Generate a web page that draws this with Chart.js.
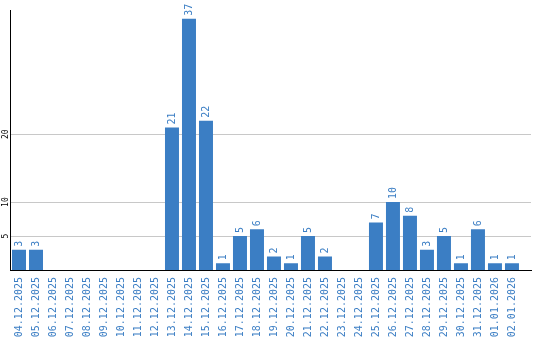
<!DOCTYPE html>
<html>
<head>
<meta charset="utf-8">
<script src="https://cdn.jsdelivr.net/npm/chart.js@4/dist/chart.umd.min.js"></script>
<style>
  html, body { margin: 0; padding: 0; background: #fff; }
  #wrap { width: 540px; height: 340px; }
</style>
</head>
<body>
<div id="wrap"><canvas id="chart"></canvas></div>
<script>
const DAYS = [
  "04.12.2025", "05.12.2025", "06.12.2025", "07.12.2025", "08.12.2025",
  "09.12.2025", "10.12.2025", "11.12.2025", "12.12.2025", "13.12.2025",
  "14.12.2025", "15.12.2025", "16.12.2025", "17.12.2025", "18.12.2025",
  "19.12.2025", "20.12.2025", "21.12.2025", "22.12.2025", "23.12.2025",
  "24.12.2025", "25.12.2025", "26.12.2025", "27.12.2025", "28.12.2025",
  "29.12.2025", "30.12.2025", "31.12.2025", "01.01.2026", "02.01.2026",
];
const COUNTS = [3, 3, 0, 0, 0, 0, 0, 0, 0, 21, 37, 22, 1, 5, 6, 2, 1, 5, 2, 0, 0, 7, 10, 8, 3, 5, 1, 6, 1, 1];
const Y_TICKS = [5, 10, 20];
const Y_MAX = 38.3;

const BLUE = "#3b7ec4";
const MONO = "'DejaVu Sans Mono', monospace";

// value above each bar, rotated like the tick labels
const barValues = {
  id: "barValues",
  afterDatasetsDraw(chart) {
    const ctx = chart.ctx;
    const meta = chart.getDatasetMeta(0);
    ctx.save();
    ctx.fillStyle = BLUE;
    ctx.font = "10px " + MONO;
    ctx.textAlign = "left";
    ctx.textBaseline = "middle";
    meta.data.forEach((bar, i) => {
      const v = COUNTS[i];
      if (!v) return;
      ctx.save();
      ctx.translate(bar.x, bar.y - 3);
      ctx.rotate(-Math.PI / 2);
      ctx.fillText(String(v), 0, 0);
      ctx.restore();
    });
    ctx.restore();
  },
};

const initChart = () => {
  const ctx = document.getElementById("chart").getContext("2d");
  new Chart(ctx, {
    type: "bar",
    data: {
      labels: DAYS,
      datasets: [{
        data: COUNTS,
        backgroundColor: BLUE,
        borderWidth: 0,
        barPercentage: 1,
        categoryPercentage: 14 / 17,
      }],
    },
    options: {
      responsive: true,
      maintainAspectRatio: false,
      animation: false,
      layout: { padding: { top: 10, right: 9, left: 0, bottom: 0 } },
      plugins: { legend: { display: false }, tooltip: { enabled: false } },
      scales: {
        x: {
          offset: true,
          grid: { display: false, drawTicks: false },
          border: { color: "#000", width: 1 },
          ticks: {
            color: BLUE,
            font: { family: MONO, size: 10 },
            minRotation: 90,
            maxRotation: 90,
            autoSkip: false,
            padding: 7,
          },
          afterBuildTicks: (scale) => { scale._valueRange = DAYS.length + 0.62; },
          afterFit: (scale) => { scale.height = 70; },
        },
        y: {
          min: 0,
          max: Y_MAX,
          grid: { color: "#c8c8c8", drawTicks: false },
          border: { color: "#000", width: 1 },
          ticks: {
            color: "#000",
            font: { family: MONO, size: 8 },
            minRotation: 90,
            maxRotation: 90,
            crossAlign: "center",
            padding: 0,
          },
          afterBuildTicks: (scale) => { scale.ticks = Y_TICKS.map((v) => ({ value: v })); },
          afterFit: (scale) => { scale.width = 10.5; },
        },
      },
    },
    plugins: [barValues],
  });
};

window.addEventListener("DOMContentLoaded", initChart);
</script>
</body>
</html>
